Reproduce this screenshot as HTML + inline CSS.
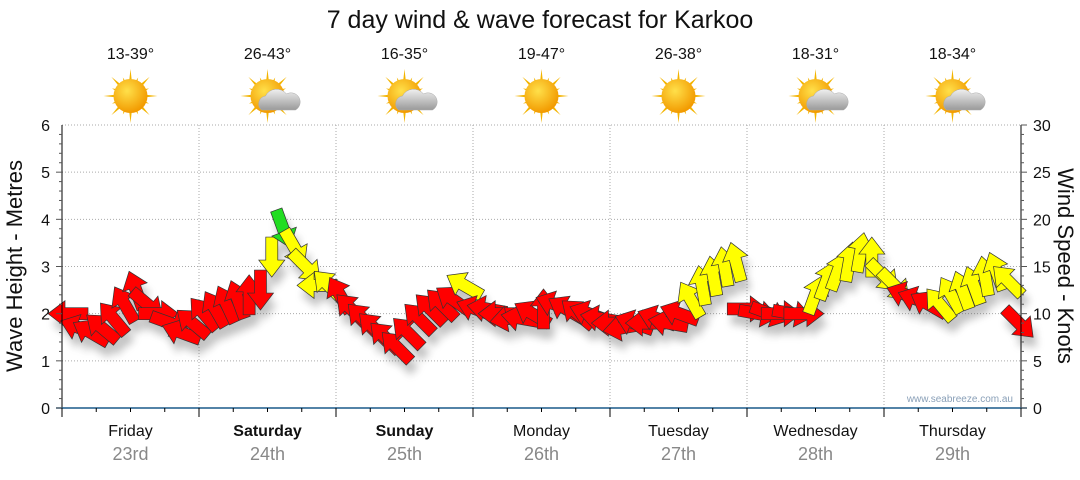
<!DOCTYPE html>
<html><head><meta charset="utf-8"><style>
body{margin:0;background:#fff;font-family:"Liberation Sans",sans-serif;}
svg text{font-family:"Liberation Sans",sans-serif;}
</style></head><body>
<svg id="c" width="1080" height="475" xmlns="http://www.w3.org/2000/svg">
<defs>
<filter id="sh" x="-50%" y="-50%" width="200%" height="200%"><feGaussianBlur stdDeviation="4"/></filter>
<radialGradient id="sun" cx="40%" cy="35%" r="65%"><stop offset="0" stop-color="#ffe04a"/><stop offset="1" stop-color="#f29a00"/></radialGradient>
<linearGradient id="cl" x1="0" y1="0" x2="0" y2="1"><stop offset="0" stop-color="#f0f0f0"/><stop offset="1" stop-color="#9a9a9a"/></linearGradient>
</defs>
<text x="540" y="28" text-anchor="middle" font-size="25" fill="#111">7 day wind &amp; wave forecast for Karkoo</text>
<g id="grid"></g><g id="icons"></g><g id="shadows" filter="url(#sh)" opacity="0.35"></g><g id="arrows"></g><g id="axes"></g>
<text x="1013" y="402" text-anchor="end" font-size="10" fill="#8aa0b8">www.seabreeze.com.au</text>
<text transform="translate(22,266) rotate(-90)" text-anchor="middle" font-size="22" fill="#111">Wave Height - Metres</text>
<text transform="translate(1058,266) rotate(90)" text-anchor="middle" font-size="22" fill="#111">Wind Speed - Knots</text>
</svg>
<script>
const days=["Friday","Saturday","Sunday","Monday","Tuesday","Wednesday","Thursday"];
const dates=["23rd","24th","25th","26th","27th","28th","29th"];
const boldDays=[false,true,true,false,false,false,false];
const temps=["13-39°","26-43°","16-35°","19-47°","26-38°","18-31°","18-34°"];
const cloudy=[false,true,true,false,false,true,true];
const leftTicks=[0,1,2,3,4,5,6];
const rightTicks=[0,5,10,15,20,25,30];
const windSpeed=[10,8.5,8,8.5,9.5,11,12.5,11,10,9,8,9,
 10,10.5,11,11.5,12,12.5,16,19,17,15,13,13,
 12,10.5,9.5,8.5,7.5,6.5,8,9.5,10.5,11,11.5,13,
 10.5,10.5,10,9.5,9.5,10,10.5,11,10.5,10,10,9.5,
 9,8.5,9,9,9.5,9,10,11.5,13,14,15,15.5,
 10.5,10,10,10,10,10,12,13.5,14.5,15.5,16.5,16,
 14,13,12,11.5,11,11,12,12.5,13,14,14.5,13.5,9];
const windDir=[180,200,210,220,230,240,250,40,0,20,200,220,
 230,240,245,250,270,90,90,70,60,45,180,225,
 240,225,225,225,225,225,225,225,225,225,215,210,
 200,190,180,170,190,210,270,200,210,220,200,190,
 180,170,200,180,200,190,200,240,260,260,260,255,
 0,10,20,0,10,0,290,290,290,280,280,270,
 45,45,200,200,210,230,240,250,250,260,250,225,45];
const windCol=["r","r","r","r","r","r","r","r","r","r","r","r",
 "r","r","r","r","r","r","y","g","y","y","y","y",
 "r","r","r","r","r","r","r","r","r","r","r","y",
 "r","r","r","r","r","r","r","r","r","r","r","r",
 "r","r","r","r","r","r","r","y","y","y","y","y",
 "r","r","r","r","r","r","y","y","y","y","y","y",
 "y","y","r","r","r","y","y","y","y","y","y","y","r"];
const X0=62,X1=1021,Y0=408,Y1=125;
const dayW=(X1-X0)/7;
const xs=i=>X0+6+i*(X1-X0-8)/(windSpeed.length-1);
const yL=v=>Y0-(Y0-Y1)*v/6;
const yR=v=>Y0-(Y0-Y1)*v/30;
const NS="http://www.w3.org/2000/svg";
function mk(tag,at,par,txt){const e=document.createElementNS(NS,tag);for(const k in at)e.setAttribute(k,at[k]);if(txt!==undefined)e.textContent=txt;document.getElementById(par).appendChild(e);return e;}
for(let v=1;v<=6;v++){const g=mk("line",{x1:X0,x2:X1,y1:yL(v),y2:yL(v),stroke:"#aaa","stroke-dasharray":"1,2"},"grid");

}
for(let d=1;d<7;d++){const g=mk("line",{x1:X0+d*dayW,x2:X0+d*dayW,y1:Y1,y2:Y0,stroke:"#aaa","stroke-dasharray":"1,2"},"grid");

}
mk("line",{x1:X0,x2:X0,y1:Y1,y2:Y0+8,stroke:"#000"},"axes");
mk("line",{x1:X1,x2:X1,y1:Y1,y2:Y0+8,stroke:"#000"},"axes");
mk("line",{x1:X0-6,x2:X1+6,y1:Y0,y2:Y0,stroke:"#1a5a8a","stroke-width":1.5},"axes");
for(let v=0;v<=6;v+=0.2){mk("line",{x1:X0-(Math.abs(v-Math.round(v))<0.01?6:3),x2:X0,y1:yL(v),y2:yL(v),stroke:"#555"},"axes");}
leftTicks.forEach(v=>{const t=mk("text",{x:X0-12,y:yL(v)+6,"text-anchor":"end","font-size":16,fill:"#111"},"axes",v);

});
for(let v=0;v<=30;v++){mk("line",{x1:X1,x2:X1+(v%5==0?6:3),y1:yR(v),y2:yR(v),stroke:"#555"},"axes");}
rightTicks.forEach(v=>{const t=mk("text",{x:X1+12,y:yR(v)+6,"font-size":16,fill:"#111"},"axes",v);

});
for(let i=0;i<=28;i++){const x=X0+i*dayW/4;mk("line",{x1:x,x2:x,y1:Y0,y2:Y0+(i%4==0?9:4),stroke:"#000"},"axes");}
days.forEach((d,i)=>{const cx=X0+(i+0.5)*dayW;
const t=mk("text",{x:cx,y:436,"text-anchor":"middle","font-size":16,fill:"#111","font-weight":boldDays[i]?"bold":"normal"},"axes",d);


const t2=mk("text",{x:cx,y:460,"text-anchor":"middle","font-size":18,fill:"#888"},"axes",dates[i]);


const t3=mk("text",{x:cx,y:59,"text-anchor":"middle","font-size":16,fill:"#111"},"icons",temps[i]);


const g=mk("g",{transform:`translate(${cx},96)`},"icons");


let rays="";for(let k=0;k<16;k++){const a=k*Math.PI/8,r=k%2?20:27;rays+=`<polygon points="${Math.cos(a-0.12)*13},${Math.sin(a-0.12)*13} ${Math.cos(a)*r},${Math.sin(a)*r} ${Math.cos(a+0.12)*13},${Math.sin(a+0.12)*13}" fill="#f3b400"/>`;}
g.innerHTML=rays+`<circle r="17" fill="url(#sun)"/>`+(cloudy[i]?`<path d="M-6,14 a8,8 0 0 1 4,-14 a12,11 0 0 1 21,-2 a9,9 0 0 1 9,16 z" fill="url(#cl)" stroke="#aaa" stroke-width="0.5"/>`:"");});
const cols={r:"#ff0000",y:"#ffff00",g:"#22dd22"};
const pts="-20,-6 3,-6 3,-13 20,0 3,13 3,6 -20,6";
windSpeed.forEach((s,i)=>{const x=xs(i),y=yR(s);
mk("polygon",{points:pts,transform:`translate(${x+4},${y+10}) rotate(${windDir[i]})`,fill:"#555"},"shadows");
const a=mk("polygon",{points:pts,transform:`translate(${x},${y}) rotate(${windDir[i]})`,fill:cols[windCol[i]],stroke:"#333","stroke-width":0.7},"arrows");

});
</script>
</body></html>
